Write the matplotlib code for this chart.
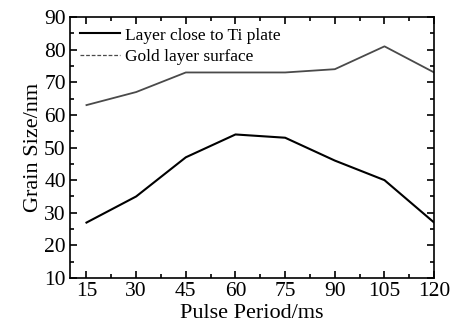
import matplotlib.pyplot as plt
from matplotlib.lines import Line2D

plt.rcParams['font.family'] = ['Liberation Serif', 'DejaVu Serif']

# Data
pulse_period = [15, 30, 45, 60, 75, 90, 105, 120]
layer_ti = [27, 35, 47, 54, 53, 46, 40, 27]
gold_surface = [63, 67, 73, 73, 73, 74, 81, 73]

fig = plt.figure(figsize=(4.57, 3.33), dpi=100)
ax = fig.add_axes([0.153, 0.165, 0.797, 0.784])

ax.plot(pulse_period, layer_ti, color='black', lw=1.5)
ax.plot(pulse_period, gold_surface, color='#4a4a4a', lw=1.3)

ax.set_xlim(10, 120)
ax.set_ylim(10, 90)
ax.set_xticks(pulse_period)
ax.set_xticks([22.5, 37.5, 52.5, 67.5, 82.5, 97.5, 112.5], minor=True)
ax.set_yticks(range(10, 91, 10))
ax.set_yticks(range(15, 90, 10), minor=True)
ax.tick_params(which='both', direction='in', top=True, right=True, labelsize=15.5, width=1.2)
ax.tick_params(which='major', length=5, pad=3)
ax.tick_params(which='minor', length=3)
for s in ax.spines.values():
    s.set_linewidth(1.2)

ax.set_xlabel('Pulse Period/ms', fontsize=16, labelpad=2)
ax.set_ylabel('Grain Size/nm', fontsize=16, labelpad=1)

handles = [Line2D([], [], color='black', lw=1.5),
           Line2D([], [], color='#4a4a4a', lw=0.9, ls='--', dashes=(3, 1.5))]
ax.legend(handles, ['Layer close to Ti plate', 'Gold layer surface'], loc='upper left',
          frameon=False, fontsize=12.5, handlelength=2.3, handletextpad=0.3,
          borderaxespad=0.2, labelspacing=0.3)

fig.savefig('out.png', dpi=100)
